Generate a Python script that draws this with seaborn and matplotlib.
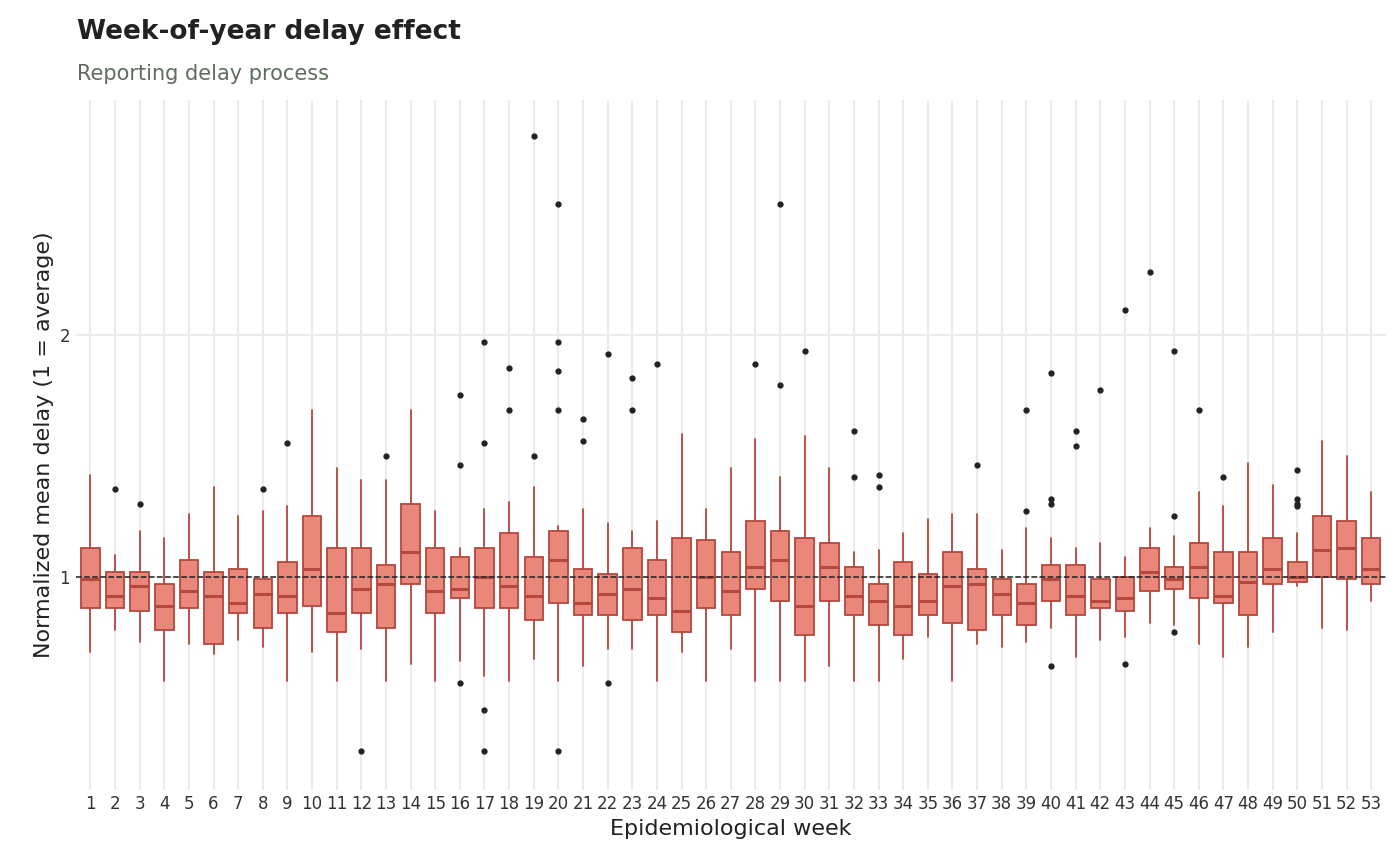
import numpy as np
import matplotlib.pyplot as plt
import seaborn as sns

weeks = list(range(1, 54))
q1 = [0.87, 0.87, 0.86, 0.78, 0.87, 0.72, 0.85, 0.79, 0.85, 0.88, 0.77, 0.85, 0.79, 0.97, 0.85, 0.91, 0.87, 0.87,
      0.82, 0.89, 0.84, 0.84, 0.82, 0.84, 0.77, 0.87, 0.84, 0.95, 0.90, 0.76, 0.90, 0.84, 0.80, 0.76, 0.84, 0.81,
      0.78, 0.84, 0.80, 0.90, 0.84, 0.87, 0.86, 0.94, 0.95, 0.91, 0.89, 0.84, 0.97, 0.98, 1.00, 0.99, 0.97]
med = [0.99, 0.92, 0.96, 0.88, 0.94, 0.92, 0.89, 0.93, 0.92, 1.03, 0.85, 0.95, 0.97, 1.10, 0.94, 0.95, 1.00, 0.96,
       0.92, 1.07, 0.89, 0.93, 0.95, 0.91, 0.86, 1.00, 0.94, 1.04, 1.07, 0.88, 1.04, 0.92, 0.90, 0.88, 0.90, 0.96,
       0.97, 0.93, 0.89, 0.99, 0.92, 0.90, 0.91, 1.02, 0.99, 1.04, 0.92, 0.98, 1.03, 1.00, 1.11, 1.12, 1.03]
q3 = [1.12, 1.02, 1.02, 0.97, 1.07, 1.02, 1.03, 0.99, 1.06, 1.25, 1.12, 1.12, 1.05, 1.30, 1.12, 1.08, 1.12, 1.18,
      1.08, 1.19, 1.03, 1.01, 1.12, 1.07, 1.16, 1.15, 1.10, 1.23, 1.19, 1.16, 1.14, 1.04, 0.97, 1.06, 1.01, 1.10,
      1.03, 0.99, 0.97, 1.05, 1.05, 0.99, 1.00, 1.12, 1.04, 1.14, 1.10, 1.10, 1.16, 1.06, 1.25, 1.23, 1.16]
whis_lo = [0.69, 0.78, 0.73, 0.57, 0.72, 0.68, 0.74, 0.71, 0.57, 0.69, 0.57, 0.70, 0.57, 0.64, 0.57, 0.65, 0.59, 0.57,
           0.66, 0.57, 0.63, 0.70, 0.70, 0.57, 0.69, 0.57, 0.70, 0.57, 0.57, 0.57, 0.63, 0.57, 0.57, 0.66, 0.75, 0.57,
           0.72, 0.71, 0.73, 0.79, 0.67, 0.74, 0.75, 0.81, 0.80, 0.72, 0.67, 0.71, 0.77, 0.96, 0.79, 0.78, 0.90]
whis_hi = [1.42, 1.09, 1.19, 1.16, 1.26, 1.37, 1.25, 1.27, 1.29, 1.69, 1.45, 1.40, 1.40, 1.69, 1.27, 1.12, 1.28, 1.31,
           1.37, 1.21, 1.28, 1.22, 1.19, 1.23, 1.59, 1.28, 1.45, 1.57, 1.41, 1.58, 1.45, 1.10, 1.11, 1.18, 1.24, 1.26,
           1.26, 1.11, 1.20, 1.16, 1.12, 1.14, 1.08, 1.20, 1.17, 1.35, 1.29, 1.47, 1.38, 1.18, 1.56, 1.50, 1.35]
outliers = [[], [1.36], [1.30], [], [], [], [], [1.36], [1.55], [], [], [0.28], [1.50], [], [],
            [1.75, 1.46, 0.56], [1.97, 1.55, 0.45, 0.28], [1.86, 1.69], [2.82, 1.50],
            [2.54, 1.97, 1.85, 1.69, 0.28], [1.65, 1.56], [1.92, 0.56], [1.82, 1.69], [1.88], [], [], [],
            [1.88], [2.54, 1.79], [1.93], [], [1.60, 1.41], [1.42, 1.37], [], [], [], [1.46], [],
            [1.69, 1.27], [1.84, 1.32, 1.30, 0.63], [1.60, 1.54], [1.77], [2.10, 0.64], [2.26],
            [1.93, 1.25, 0.77], [1.69], [1.41], [], [], [1.44, 1.32, 1.30, 1.29], [], [], []]

sns.set_theme(style="whitegrid")
plt.rcParams['font.family'] = ['DejaVu Sans']

stats = [dict(label=str(w), q1=a, med=m, q3=b, whislo=lo, whishi=hi, fliers=f)
         for w, a, m, b, lo, hi, f in zip(weeks, q1, med, q3, whis_lo, whis_hi, outliers)]

fig, ax = plt.subplots(figsize=(14, 8.66), dpi=100)
fig.subplots_adjust(left=0.054, right=0.99, top=0.885, bottom=0.088)

fill = '#E8877A'
edge = '#B5473E'
ax.bxp(stats, positions=weeks, widths=0.75, patch_artist=True, showcaps=False,
       boxprops=dict(facecolor=fill, edgecolor=edge, linewidth=1.3),
       medianprops=dict(color=edge, linewidth=2.2),
       whiskerprops=dict(color=edge, linewidth=1.3),
       flierprops=dict(marker='o', markerfacecolor='#222222', markeredgecolor='#222222', markersize=3.5))
ax.axhline(1, color='#222222', linestyle='--', linewidth=1.1, zorder=5)

ax.set_xlim(0.4, 53.6)
ax.set_ylim(0.12, 2.97)
ax.set_yticks([1, 2])
ax.set_yticklabels(['1', '2'])
ax.set_xticks(weeks)
ax.set_xticklabels([str(w) for w in weeks], fontsize=12, color='#333333')
ax.tick_params(axis='y', labelsize=12, colors='#333333')
ax.tick_params(axis='both', length=0, pad=4)
ax.grid(True, color='#EBEBEB', linewidth=1.5)
ax.set_axisbelow(True)
for s in ax.spines.values():
    s.set_visible(False)
ax.set_facecolor('white')

ax.set_xlabel('Epidemiological week', fontsize=16, color='#222222')
ax.set_ylabel('Normalized mean delay (1 = average)', fontsize=16, color='#222222')
fig.text(0.055, 0.963, 'Week-of-year delay effect', fontsize=19, fontweight='bold', color='#222222', va='center')
fig.text(0.055, 0.915, 'Reporting delay process', fontsize=15, color='#5E6E5E', va='center')

fig.savefig('out.png', dpi=100)
